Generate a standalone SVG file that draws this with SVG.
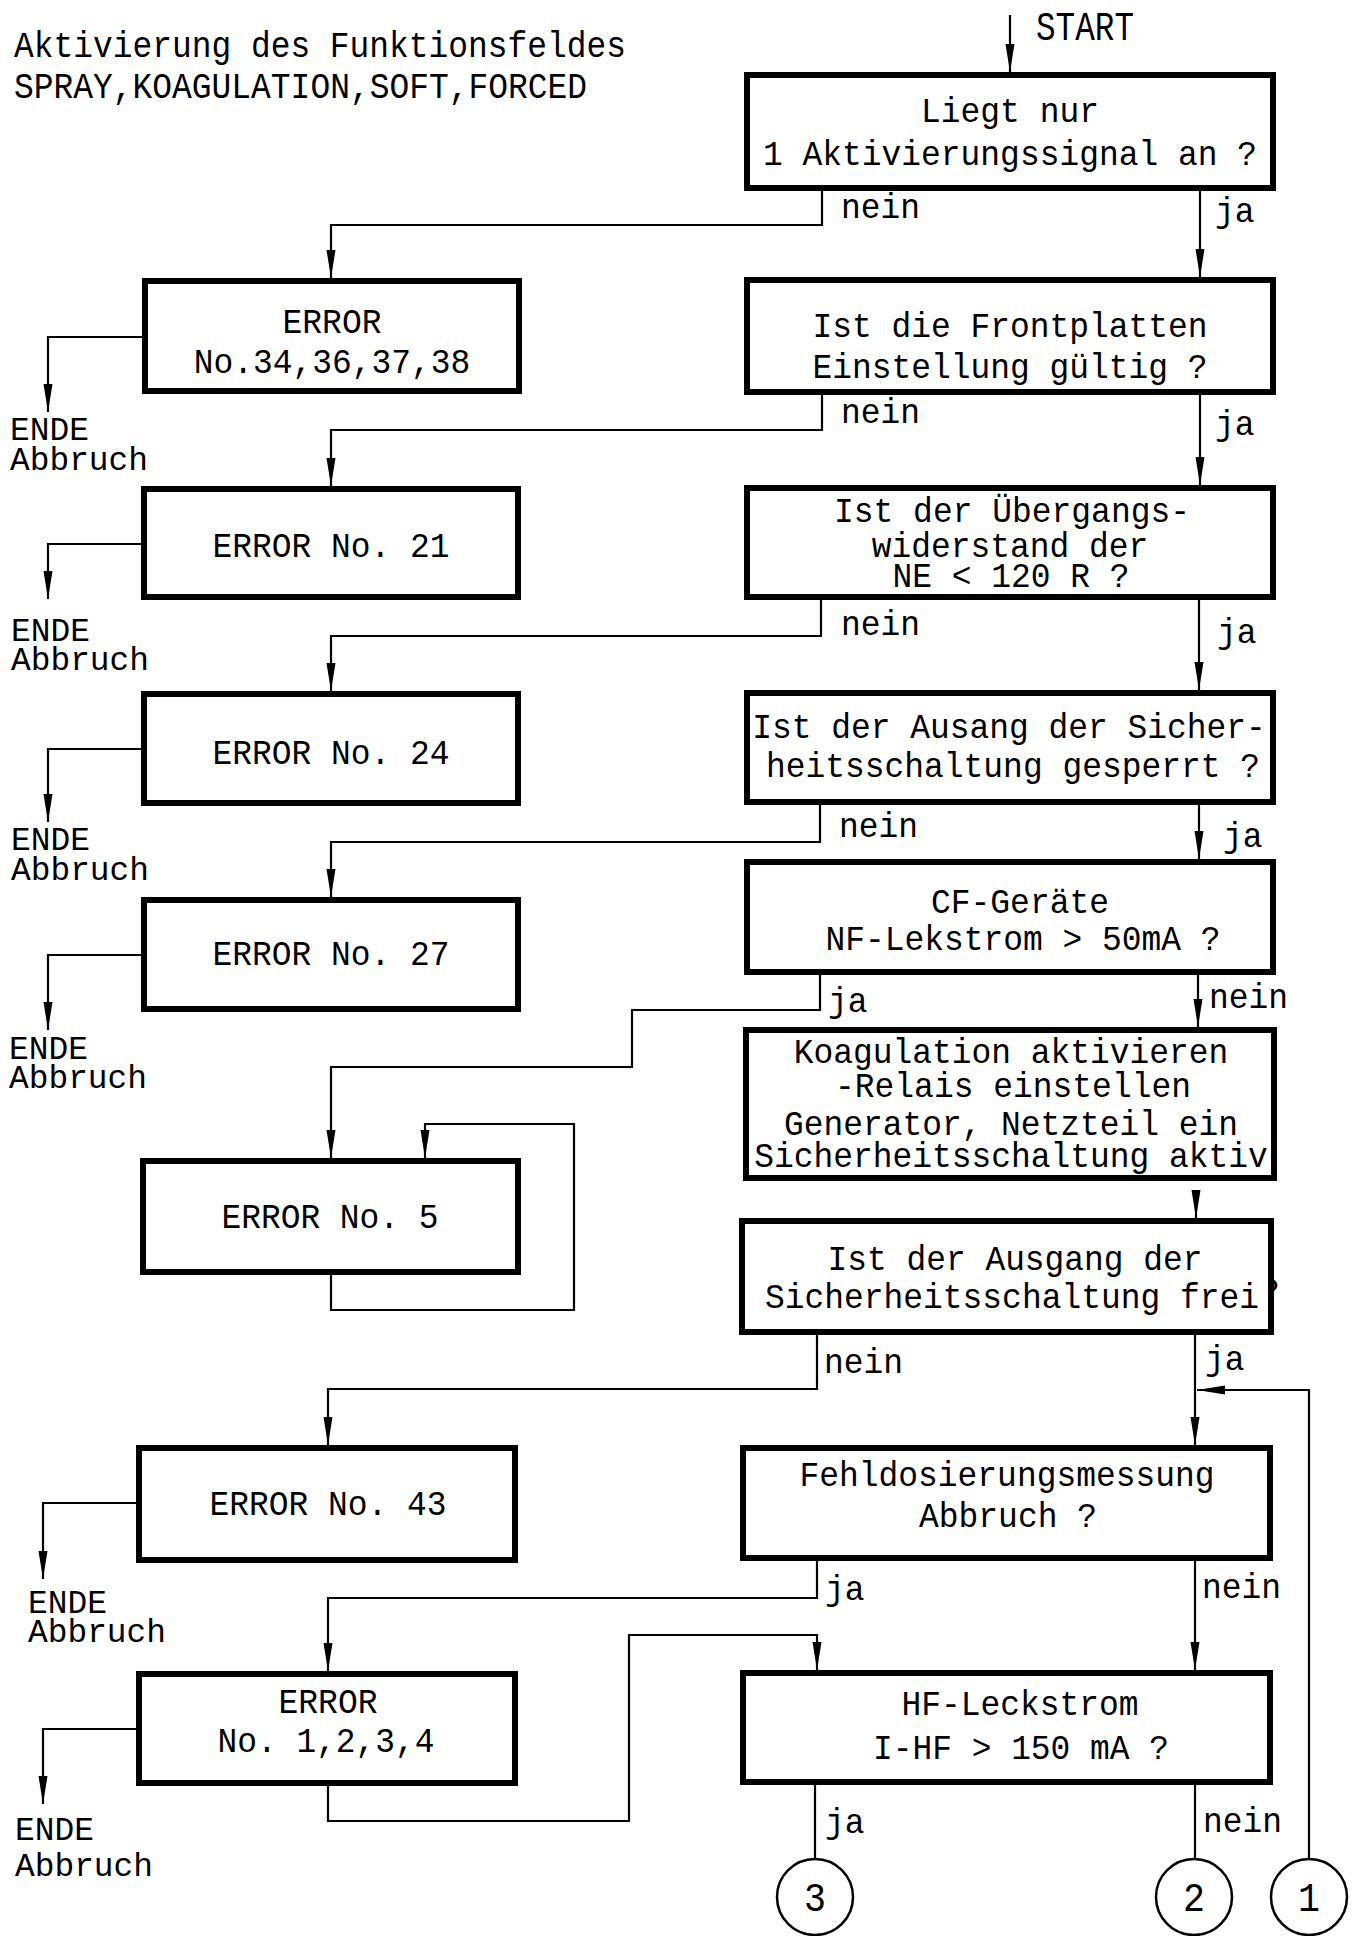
<svg xmlns="http://www.w3.org/2000/svg" width="1358" height="1936" viewBox="0 0 1358 1936">
<defs>
<style>
.box{fill:#fff;stroke:#000;stroke-width:6}
.ln{fill:none;stroke:#000;stroke-width:2.2}
.arr{fill:none;stroke:#000;stroke-width:2.2;marker-end:url(#ah)}
.cir{fill:#fff;stroke:#000;stroke-width:2.5}
text{font-family:"Liberation Mono","DejaVu Sans Mono",monospace;font-size:35px;fill:#000}
.m{text-anchor:middle}
.t{font-size:37px}
.s{font-size:40px}
.e{font-size:33px}
</style>
<marker id="ah" markerUnits="userSpaceOnUse" markerWidth="30" markerHeight="10" refX="28" refY="5" orient="auto" viewBox="0 0 28 10">
<path d="M0,0.5 L28,5 L0,9.5 z" fill="#000"/>
</marker>
</defs>
<rect x="0" y="0" width="1358" height="1936" fill="#fff"/>

<g id="title">
<text class="t" x="14" y="57" textLength="612" lengthAdjust="spacingAndGlyphs">Aktivierung des Funktionsfeldes</text>
<text class="t" x="14" y="98" textLength="573" lengthAdjust="spacingAndGlyphs">SPRAY,KOAGULATION,SOFT,FORCED</text>
</g>

<g id="connectors">
<path class="arr" d="M1010,15 L1010,72"/>
<path class="arr" d="M1200,191 L1200,277"/>
<path class="arr" d="M822,191 L822,225 L331,225 L331,278"/>
<path class="arr" d="M142,337 L48,337 L48,412"/>
<path class="arr" d="M1200,395 L1200,485"/>
<path class="arr" d="M822,395 L822,430 L331,430 L331,486"/>
<path class="arr" d="M141,544 L48,544 L48,599"/>
<path class="arr" d="M1199,600 L1199,690"/>
<path class="arr" d="M821,600 L821,636 L331,636 L331,691"/>
<path class="arr" d="M141,749 L48,749 L48,822"/>
<path class="arr" d="M1199,805 L1199,859"/>
<path class="arr" d="M820,805 L820,842 L331,842 L331,897"/>
<path class="arr" d="M141,955 L48,955 L48,1030"/>
<path class="arr" d="M820,975 L820,1010 L632,1010 L632,1067 L331,1067 L331,1158"/>
<path class="arr" d="M1198,975 L1198,1027"/>
<path class="arr" d="M331,1275 L331,1310 L574,1310 L574,1124 L425,1124 L425,1158"/>
<path class="arr" d="M1196,1190 L1196,1218"/>
<path class="arr" d="M817,1335 L817,1389 L328,1389 L328,1445"/>
<path class="arr" d="M1195,1335 L1195,1445"/>
<path class="arr" d="M1309,1859 L1309,1390 L1197,1390"/>
<path class="arr" d="M136,1503 L43,1503 L43,1579"/>
<path class="arr" d="M817,1561 L817,1598 L328,1598 L328,1671"/>
<path class="arr" d="M1195,1561 L1195,1670"/>
<path class="arr" d="M136,1729 L43,1729 L43,1804"/>
<path class="arr" d="M328,1786 L328,1821 L629,1821 L629,1635 L817,1635 L817,1670"/>
<path class="ln" d="M815,1785 L815,1859"/>
<path class="ln" d="M1195,1785 L1195,1859"/>
<text class="s" x="1036" y="40" textLength="98" lengthAdjust="spacingAndGlyphs">START</text>
<text x="841" y="218" textLength="79" lengthAdjust="spacingAndGlyphs">nein</text>
<text x="1215" y="222" textLength="39.5" lengthAdjust="spacingAndGlyphs">ja</text>
<text x="841" y="423" textLength="79" lengthAdjust="spacingAndGlyphs">nein</text>
<text x="1215" y="435" textLength="39.5" lengthAdjust="spacingAndGlyphs">ja</text>
<text x="841" y="635" textLength="79" lengthAdjust="spacingAndGlyphs">nein</text>
<text x="1217" y="643" textLength="39.5" lengthAdjust="spacingAndGlyphs">ja</text>
<text x="839" y="837" textLength="79" lengthAdjust="spacingAndGlyphs">nein</text>
<text x="1223" y="847" textLength="39.5" lengthAdjust="spacingAndGlyphs">ja</text>
<text x="828" y="1012" textLength="39.5" lengthAdjust="spacingAndGlyphs">ja</text>
<text x="1209" y="1008" textLength="79" lengthAdjust="spacingAndGlyphs">nein</text>
<text x="824" y="1373" textLength="79" lengthAdjust="spacingAndGlyphs">nein</text>
<text x="1205" y="1370" textLength="39.5" lengthAdjust="spacingAndGlyphs">ja</text>
<text x="825" y="1600" textLength="39.5" lengthAdjust="spacingAndGlyphs">ja</text>
<text x="1202" y="1598" textLength="79" lengthAdjust="spacingAndGlyphs">nein</text>
<text x="825" y="1833" textLength="39.5" lengthAdjust="spacingAndGlyphs">ja</text>
<text x="1203" y="1832" textLength="79" lengthAdjust="spacingAndGlyphs">nein</text>
<text class="e" x="10" y="440" textLength="79" lengthAdjust="spacingAndGlyphs">ENDE</text>
<text class="e" x="10" y="470" textLength="138" lengthAdjust="spacingAndGlyphs">Abbruch</text>
<text class="e" x="11" y="641" textLength="79" lengthAdjust="spacingAndGlyphs">ENDE</text>
<text class="e" x="11" y="670" textLength="138" lengthAdjust="spacingAndGlyphs">Abbruch</text>
<text class="e" x="11" y="850" textLength="79" lengthAdjust="spacingAndGlyphs">ENDE</text>
<text class="e" x="11" y="880" textLength="138" lengthAdjust="spacingAndGlyphs">Abbruch</text>
<text class="e" x="9" y="1059" textLength="79" lengthAdjust="spacingAndGlyphs">ENDE</text>
<text class="e" x="9" y="1088" textLength="138" lengthAdjust="spacingAndGlyphs">Abbruch</text>
<text class="e" x="28" y="1613" textLength="79" lengthAdjust="spacingAndGlyphs">ENDE</text>
<text class="e" x="28" y="1642" textLength="138" lengthAdjust="spacingAndGlyphs">Abbruch</text>
<text class="e" x="15" y="1840" textLength="79" lengthAdjust="spacingAndGlyphs">ENDE</text>
<text class="e" x="15" y="1876" textLength="138" lengthAdjust="spacingAndGlyphs">Abbruch</text>
</g>

<g id="box1">
<rect class="box" x="747" y="75" width="526" height="113"/>
<text class="m" x="1010" y="122" textLength="178" lengthAdjust="spacingAndGlyphs">Liegt nur</text>
<text class="m" x="1010" y="165" textLength="494" lengthAdjust="spacingAndGlyphs">1 Aktivierungssignal an ?</text>
</g>
<g id="box2">
<rect class="box" x="747" y="280" width="526" height="112"/>
<text class="m" x="1010" y="337" textLength="395" lengthAdjust="spacingAndGlyphs">Ist die Frontplatten</text>
<text class="m" x="1010" y="378" textLength="395" lengthAdjust="spacingAndGlyphs">Einstellung gültig ?</text>
</g>
<g id="box3">
<rect class="box" x="747" y="488" width="526" height="109"/>
<text class="m" x="1012" y="522" textLength="356" lengthAdjust="spacingAndGlyphs">Ist der Übergangs-</text>
<text class="m" x="1010" y="557" textLength="276.5" lengthAdjust="spacingAndGlyphs">widerstand der</text>
<text class="m" x="1011" y="587" textLength="237" lengthAdjust="spacingAndGlyphs">NE &lt; 120 R ?</text>
</g>
<g id="box4">
<rect class="box" x="747" y="693" width="526" height="109"/>
<text class="m" x="1009" y="738" textLength="513.5" lengthAdjust="spacingAndGlyphs">Ist der Ausang der Sicher-</text>
<text class="m" x="1013" y="777" textLength="494" lengthAdjust="spacingAndGlyphs">heitsschaltung gesperrt ?</text>
</g>
<g id="box5">
<rect class="box" x="747" y="862" width="526" height="110"/>
<text class="m" x="1020" y="913" textLength="178" lengthAdjust="spacingAndGlyphs">CF-Geräte</text>
<text class="m" x="1023" y="950" textLength="395" lengthAdjust="spacingAndGlyphs">NF-Lekstrom &gt; 50mA ?</text>
</g>
<g id="box6">
<rect class="box" x="746" y="1030" width="528" height="148"/>
<text class="m" x="1011" y="1063" textLength="434.5" lengthAdjust="spacingAndGlyphs">Koagulation aktivieren</text>
<text class="m" x="1013" y="1097" textLength="356" lengthAdjust="spacingAndGlyphs">-Relais einstellen</text>
<text class="m" x="1011" y="1135" textLength="454" lengthAdjust="spacingAndGlyphs">Generator, Netzteil ein</text>
<text class="m" x="1011" y="1167" textLength="513.5" lengthAdjust="spacingAndGlyphs">Sicherheitsschaltung aktiv</text>
</g>
<g id="box7">
<text x="1260" y="1302" textLength="19.75" lengthAdjust="spacingAndGlyphs">?</text>
<rect class="box" x="742" y="1221" width="529" height="111"/>
<text class="m" x="1015" y="1270" textLength="375" lengthAdjust="spacingAndGlyphs">Ist der Ausgang der</text>
<text class="m" x="1012" y="1308" textLength="494" lengthAdjust="spacingAndGlyphs">Sicherheitsschaltung frei</text>
</g>
<g id="box8">
<rect class="box" x="743" y="1448" width="527" height="110"/>
<text class="m" x="1007" y="1486" textLength="415" lengthAdjust="spacingAndGlyphs">Fehldosierungsmessung</text>
<text class="m" x="1008" y="1527" textLength="178" lengthAdjust="spacingAndGlyphs">Abbruch ?</text>
</g>
<g id="box9">
<rect class="box" x="743" y="1673" width="527" height="109"/>
<text class="m" x="1020" y="1715" textLength="237" lengthAdjust="spacingAndGlyphs">HF-Leckstrom</text>
<text class="m" x="1021" y="1759" textLength="296" lengthAdjust="spacingAndGlyphs">I-HF &gt; 150 mA ?</text>
</g>

<g id="err1">
<rect class="box" x="145" y="281" width="374" height="110"/>
<text class="m" x="332" y="333" textLength="99" lengthAdjust="spacingAndGlyphs">ERROR</text>
<text class="m" x="332" y="373" textLength="276.5" lengthAdjust="spacingAndGlyphs">No.34,36,37,38</text>
</g>
<g id="err2">
<rect class="box" x="144" y="489" width="374" height="108"/>
<text class="m" x="331" y="557" textLength="237" lengthAdjust="spacingAndGlyphs">ERROR No. 21</text>
</g>
<g id="err3">
<rect class="box" x="144" y="694" width="374" height="109"/>
<text class="m" x="331" y="764" textLength="237" lengthAdjust="spacingAndGlyphs">ERROR No. 24</text>
</g>
<g id="err4">
<rect class="box" x="144" y="900" width="374" height="109"/>
<text class="m" x="331" y="965" textLength="237" lengthAdjust="spacingAndGlyphs">ERROR No. 27</text>
</g>
<g id="err5">
<rect class="box" x="143" y="1161" width="375" height="111"/>
<text class="m" x="330" y="1228" textLength="217" lengthAdjust="spacingAndGlyphs">ERROR No. 5</text>
</g>
<g id="err6">
<rect class="box" x="139" y="1448" width="376" height="112"/>
<text class="m" x="328" y="1515" textLength="237" lengthAdjust="spacingAndGlyphs">ERROR No. 43</text>
</g>
<g id="err7">
<rect class="box" x="139" y="1674" width="376" height="109"/>
<text class="m" x="328" y="1713" textLength="99" lengthAdjust="spacingAndGlyphs">ERROR</text>
<text class="m" x="326" y="1752" textLength="217" lengthAdjust="spacingAndGlyphs">No. 1,2,3,4</text>
</g>

<g id="conn3">
<circle class="cir" cx="815" cy="1897" r="38"/>
<text class="m s" x="815" y="1911" textLength="22" lengthAdjust="spacingAndGlyphs">3</text>
</g>
<g id="conn2">
<circle class="cir" cx="1194" cy="1897" r="38"/>
<text class="m s" x="1194" y="1911" textLength="22" lengthAdjust="spacingAndGlyphs">2</text>
</g>
<g id="conn1">
<circle class="cir" cx="1309" cy="1897" r="38"/>
<text class="m s" x="1309" y="1911" textLength="22" lengthAdjust="spacingAndGlyphs">1</text>
</g>
</svg>
